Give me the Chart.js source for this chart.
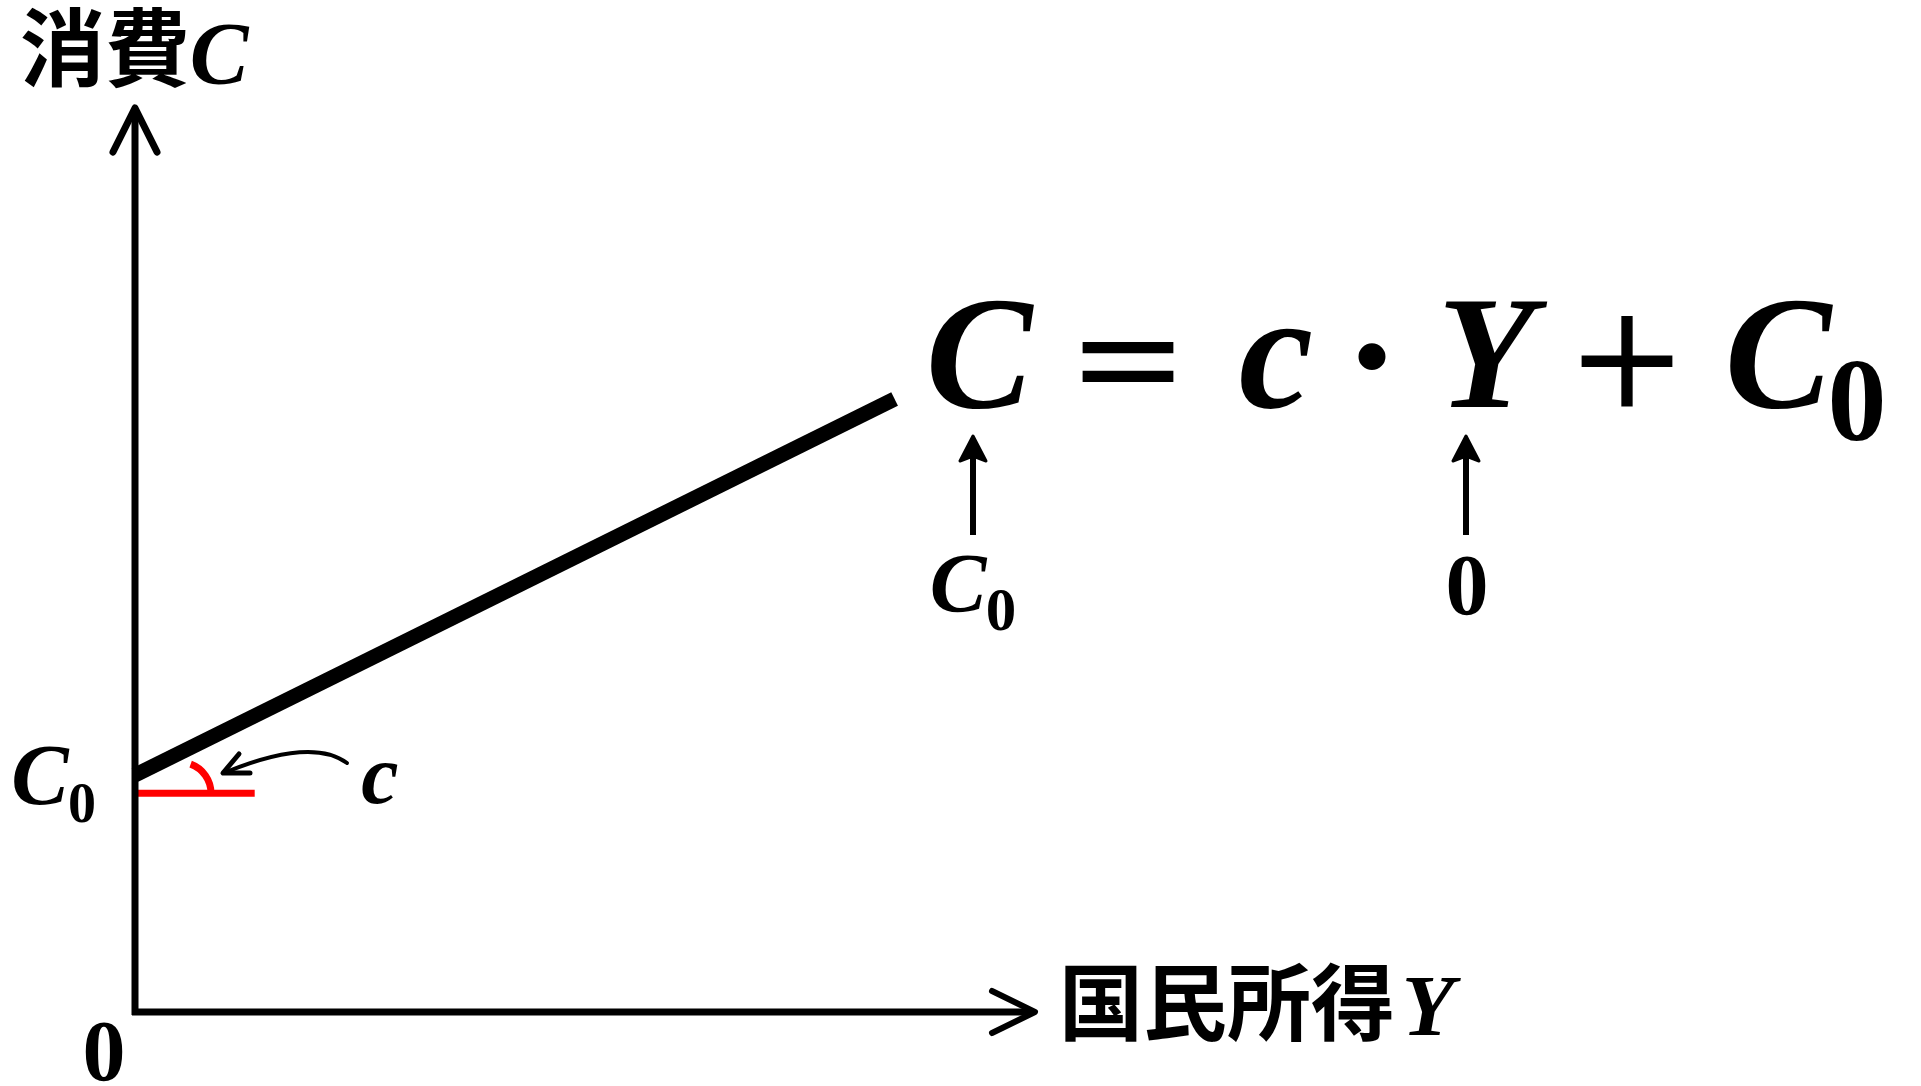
<!DOCTYPE html>
<html>
<head>
<meta charset="utf-8">
<script src="https://cdn.jsdelivr.net/npm/chart.js@4/dist/chart.umd.min.js"></script>
<style>
html,body{margin:0;padding:0;background:#fff;overflow:hidden}
#wrap{width:1921px;height:1086px;position:relative}
</style>
</head>
<body>
<div id="wrap"><canvas id="cv"></canvas></div>
<script>
// consumption function C = c*Y + C0 (schematic units, axis 0..10)
const incomeY=[0,8.44];
const consumptionC=[2.62,6.78];
// red base line drawn from C0 to show the slope angle c
const baseY=[0,1.33];
const baseC=[2.42,2.42];
const axisMin=0,axisMax=10;
const yTitle=['消費','C'];
const xTitle=['国民所得','Y'];

const MATH='"Liberation Serif"';
const SYM='"DejaVu Serif"';
const CJK='"Noto Sans CJK JP"';

function txt(ctx,s,font,x,y,align){ctx.font=font;ctx.textAlign=align||'center';ctx.textBaseline='alphabetic';ctx.fillText(s,x,y);}
function chevron(ctx,tx,ty,ax,ay,bx,by,w){ctx.beginPath();ctx.moveTo(ax,ay);ctx.lineTo(tx,ty);ctx.lineTo(bx,by);ctx.lineWidth=w;ctx.lineCap='round';ctx.lineJoin='round';ctx.stroke();}
function upArrow(ctx,x,top,bottom){
  ctx.fillStyle='#000';ctx.strokeStyle='#000';
  ctx.beginPath();ctx.moveTo(x,top);ctx.lineTo(x+13,top+25);ctx.lineTo(x,top+20);ctx.lineTo(x-13,top+25);ctx.closePath();
  ctx.lineWidth=3;ctx.lineJoin='round';ctx.fill();ctx.stroke();
  ctx.fillRect(x-3,top+15,6,bottom-top-15);
}

const diagram={
  id:'diagram',
  afterDatasetsDraw(chart){
    const ctx=chart.ctx,xs=chart.scales.x,ys=chart.scales.y;
    const x0=xs.getPixelForValue(axisMin),x1=xs.getPixelForValue(axisMax);
    const y0=ys.getPixelForValue(axisMin),y1=ys.getPixelForValue(axisMax);
    ctx.save();
    ctx.strokeStyle='#000';ctx.lineWidth=7;ctx.lineCap='butt';
    ctx.beginPath();ctx.moveTo(x0,y1+2);ctx.lineTo(x0,y0+3);ctx.stroke();
    ctx.beginPath();ctx.moveTo(x0-3,y0);ctx.lineTo(x1-2,y0);ctx.stroke();
    chevron(ctx,x0,y1,x0-22,y1+44,x0+22,y1+44,7);
    chevron(ctx,x1,y0,x1-43,y0-21,x1-43,y0+21,6);
    // angle mark
    const cx=xs.getPixelForValue(0.5),cy=ys.getPixelForValue(baseC[0]);
    ctx.strokeStyle='#ff0000';ctx.lineWidth=7;ctx.lineCap='butt';
    ctx.beginPath();ctx.arc(cx,cy,31,-1.22,0);ctx.stroke();
    // curved pointer from label c
    ctx.strokeStyle='#000';ctx.lineWidth=4;ctx.lineCap='round';
    ctx.beginPath();ctx.moveTo(347,763);ctx.quadraticCurveTo(312,737,226,772);ctx.stroke();
    chevron(ctx,223,773,239,754,250,773,5);
    // pointers under the equation
    upArrow(ctx,973,436,535);
    upArrow(ctx,1466,436,535);
    ctx.restore();
  },
  afterDraw(chart){
    const ctx=chart.ctx;
    ctx.save();ctx.fillStyle='#000';
    // axis titles
    txt(ctx,yTitle[0],'bold 85px '+CJK,20,80,'left');
    txt(ctx,yTitle[1],'italic bold 88px '+MATH,219,83);
    txt(ctx,xTitle[0],'bold 84px '+CJK,1059,1034,'left');
    txt(ctx,xTitle[1],'italic bold 86px '+MATH,1428,1035);
    // origin and intercept
    txt(ctx,'0','bold 86px '+MATH,104,1080);
    txt(ctx,'C','italic bold 86px '+MATH,40,804);
    txt(ctx,'0','bold 56px '+MATH,82,822);
    txt(ctx,'c','italic bold 84px '+MATH,380,803);
    // equation
    txt(ctx,'C','italic bold 160px '+MATH,979,407);
    txt(ctx,'=','145px '+SYM,1128,407);
    txt(ctx,'c','italic bold 168px '+MATH,1276,407);
    txt(ctx,'·','bold 145px '+SYM,1372,407);
    txt(ctx,'Y','italic bold 160px '+MATH,1486,407);
    txt(ctx,'+','145px '+SYM,1627,407);
    txt(ctx,'C','italic bold 160px '+MATH,1778,407);
    txt(ctx,'0','bold 118px '+MATH,1857,440);
    // pointer labels
    txt(ctx,'C','italic bold 85px '+MATH,958,612);
    txt(ctx,'0','bold 61px '+MATH,1001,630);
    txt(ctx,'0','bold 86px '+MATH,1467,614);
    ctx.restore();
  }
};

new Chart(document.getElementById('cv'),{
  type:'scatter',
  data:{datasets:[
    {data:incomeY.map((v,i)=>({x:v,y:consumptionC[i]})),showLine:true,borderColor:'#000',borderWidth:15,borderCapStyle:'butt',pointRadius:0,clip:false},
    {data:baseY.map((v,i)=>({x:v,y:baseC[i]})),showLine:true,borderColor:'#ff0000',borderWidth:7,borderCapStyle:'butt',pointRadius:0,clip:false}
  ]},
  options:{
    responsive:true,maintainAspectRatio:false,animation:false,devicePixelRatio:1,
    layout:{padding:{left:135,right:886,top:108,bottom:74}},
    plugins:{legend:{display:false},tooltip:{enabled:false}},
    scales:{
      x:{type:'linear',min:axisMin,max:axisMax,display:false},
      y:{type:'linear',min:axisMin,max:axisMax,display:false}
    }
  },
  plugins:[diagram]
});
</script>
</body>
</html>
